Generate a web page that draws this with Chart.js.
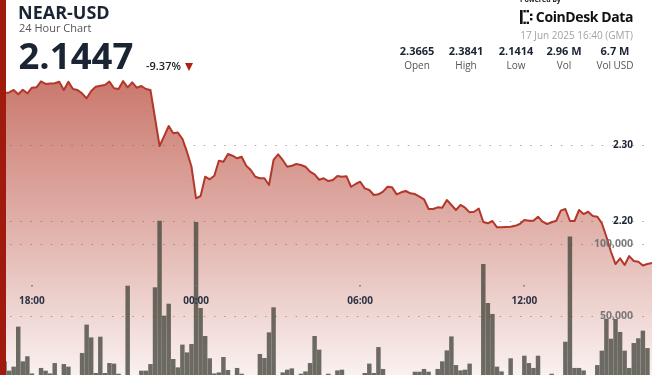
<!DOCTYPE html>
<html><head><meta charset="utf-8">
<script src="https://cdn.jsdelivr.net/npm/chart.js@4"></script>
<style>
html,body{margin:0;padding:0;background:#fff;}
#wrap{position:relative;width:652px;height:375px;overflow:hidden;font-family:"Open Sans",sans-serif;}
#c{position:absolute;left:0;top:0;}
.redbar{position:absolute;left:0;top:0;width:6px;height:375px;background:#a01b0d;}
.t{position:absolute;white-space:nowrap;line-height:1;}
.st{position:absolute;width:64px;text-align:center;line-height:1;white-space:nowrap;}
</style></head>
<body><div id="wrap">
<canvas id="c" width="652" height="375"></canvas>
<div class="redbar"></div>
<div class="t" style="left:18px;top:3px;font-size:18px;font-weight:700;color:#1b2433;">NEAR-USD</div>
<div class="t" style="left:19px;top:22px;font-size:11px;color:#555;">24 Hour Chart</div>
<div class="t" style="left:18.5px;top:36.5px;font-size:36.5px;font-weight:700;color:#1b2433;">2.1447</div>
<div class="t" style="left:146px;top:60px;font-size:11px;font-weight:600;color:#222;">-9.37%</div>
<div style="position:absolute;left:185px;top:63px;width:0;height:0;border-left:4.5px solid transparent;border-right:4.5px solid transparent;border-top:8px solid #b0200f;"></div>
<div class="t" style="left:520px;top:-3.7px;font-size:7px;font-weight:700;color:#222;">Powered by</div>
<svg style="position:absolute;left:520px;top:10px" width="13" height="14" viewBox="0 0 13 14">
<g fill="#111">
<rect x="0" y="0" width="2.6" height="14"/>
<rect x="3.4" y="0" width="2.4" height="2.4"/><rect x="6.6" y="0" width="2.4" height="2.4"/>
<rect x="3.4" y="11.6" width="2.4" height="2.4"/><rect x="6.6" y="11.6" width="2.4" height="2.4"/>
<rect x="10" y="3.6" width="2.4" height="2.4"/><rect x="10" y="8" width="2.4" height="2.4"/>
</g></svg>
<div class="t" style="right:19px;top:9.5px;font-size:14px;font-weight:700;color:#111;letter-spacing:-0.4px;">CoinDesk Data</div>
<div class="t" style="right:19px;top:30px;font-size:10px;color:#a3a3a3;">17 Jun 2025 16:40 (GMT)</div>
<div id="stats"></div>
</div>
<script>
// ---- data ----
const startTime = "16:50"; // first 10-minute bucket
const timeTicks = ["18:00", "00:00", "06:00", "12:00"];
const priceTicks = [2.20, 2.30];
const volumeTicks = [50000, 100000];
const statValues = ["2.3665", "2.3841", "2.1414", "2.96 M", "6.7 M"];
const statLabels = ["Open", "High", "Low", "Vol", "Vol USD"];

const prices = [
2.3665,2.3684,2.3691,2.3724,2.3667,2.3728,2.3680,2.3754,2.3759,2.3838,
2.3803,2.3809,2.3812,2.3833,2.3724,2.3833,2.3737,2.3724,2.3680,2.3614,
2.3711,2.3767,2.3779,2.3789,2.3835,2.3746,2.3737,2.3841,2.3759,2.3825,
2.3754,2.3776,2.3737,2.3724,2.3355,2.2987,2.3118,2.3250,2.3154,2.3164,
2.3082,2.2912,2.2714,2.2299,2.2329,2.2583,2.2549,2.2595,2.2792,2.2780,
2.2882,2.2859,2.2825,2.2846,2.2728,2.2671,2.2583,2.2562,2.2562,2.2474,
2.2803,2.2878,2.2803,2.2714,2.2728,2.2750,2.2737,2.2714,2.2649,2.2614,
2.2543,2.2562,2.2526,2.2539,2.2592,2.2583,2.2588,2.2451,2.2487,2.2517,
2.2430,2.2408,2.2342,2.2351,2.2386,2.2451,2.2443,2.2351,2.2378,2.2395,
2.2364,2.2355,2.2320,2.2286,2.2158,2.2158,2.2180,2.2175,2.2276,2.2211,
2.2145,2.2211,2.2175,2.2114,2.2122,2.2164,2.1987,2.1970,2.2000,2.1917,
2.1917,2.1921,2.1925,2.1937,2.1961,2.2013,2.2004,2.2004,2.2057,2.1991,
2.1961,2.1983,2.2004,2.2136,2.2158,2.2000,2.2000,2.2145,2.2092,2.2122,
2.2066,2.2057,2.1970,2.1793,2.1596,2.1434,2.1509,2.1421,2.1539,2.1474,
2.1464,2.1414,2.1434,2.1447
];

const volumes = [
6000,18300,11800,14600,42400,18300,21800,9900,6000,13700,
11800,9900,17100,5000,16400,14600,7000,5000,24100,43800,
34900,10200,35400,10200,17100,16700,9700,6000,70800,5000,
7000,11800,11800,16400,69700,116000,50000,58300,19900,14100,
29900,24500,30300,115000,55300,35900,20400,9900,10600,21300,
12300,6000,13700,9700,5000,7000,4000,23400,20600,38400,
55800,6000,10600,12500,13400,7000,9700,11300,17100,35900,
26400,6000,9700,5000,12000,12500,7000,5000,6000,8000,
10200,16700,10200,28200,13000,6000,7000,5000,4000,6000,
8000,11100,11100,13000,11100,7000,13000,18300,25900,35600,
15700,12000,12500,16700,6000,5000,85900,58800,51200,14600,
11300,7000,20400,6000,8000,22200,17100,13700,22200,5000,
7000,9700,6000,8000,31900,105000,13700,13700,12000,6000,
8000,15700,25700,47900,34000,47700,38700,25700,13700,31000,
34300,39600,27500,8000
];

// category labels: 10-minute buckets
const categories = [];
{
  let [h, m] = startTime.split(":").map(Number);
  for (let i = 0; i < prices.length; i++) {
    categories.push(String(h).padStart(2, "0") + ":" + String(m).padStart(2, "0"));
    m += 10; if (m >= 60) { m -= 60; h = (h + 1) % 24; }
  }
}

// stats row
const statCenters = [417, 466, 516, 564, 615];
const statsEl = document.getElementById("stats");
statValues.forEach((v, i) => {
  const a = document.createElement("div");
  a.className = "st";
  a.style.cssText = `left:${statCenters[i]-32}px;top:45.2px;font-size:11px;font-weight:700;color:#1b2433;`;
  a.textContent = v; statsEl.appendChild(a);
  const b = document.createElement("div");
  b.className = "st";
  b.style.cssText = `left:${statCenters[i]-32}px;top:60px;font-size:10px;color:#555;`;
  b.textContent = statLabels[i]; statsEl.appendChild(b);
});

const overlay = {
  id: "overlay",
  beforeDatasetsDraw(chart) {
    const { ctx, chartArea: a, scales } = chart;
    ctx.save();
    ctx.strokeStyle = "rgba(110,110,110,0.6)";
    ctx.lineWidth = 1;
    ctx.setLineDash([1.5, 8.7]);
    const ys = priceTicks.map(v => scales.y.getPixelForValue(v))
      .concat(volumeTicks.map(v => scales.yv.getPixelForValue(v)));
    ys.forEach(y => {
      const yy = Math.round(y) + 0.5;
      ctx.beginPath(); ctx.moveTo(a.left + 10, yy); ctx.lineTo(a.right, yy); ctx.stroke();
    });
    ctx.restore();
  },
  afterDatasetsDraw(chart) {
    const { ctx, scales } = chart;
    ctx.save();
    ctx.textBaseline = "middle";
    // time labels
    ctx.font = "700 10px 'Open Sans'";
    ctx.textAlign = "center";
    timeTicks.forEach(t => {
      const idx = categories.indexOf(t);
      const x = scales.x.getPixelForValue(idx);
      ctx.fillStyle = "rgba(120,120,120,0.8)";
      ctx.fillRect(Math.round(x) - 1, 285, 2, 1.5);
      ctx.fillStyle = "#2a3344";
      ctx.fillText(t, x, 301.5);
    });
    // price labels
    ctx.textAlign = "right";
    ctx.fillStyle = "#1b2433";
    priceTicks.forEach(v => {
      ctx.fillText(v.toFixed(2), 633, scales.y.getPixelForValue(v) + 0.5);
    });
    ctx.font = "700 10.5px 'Open Sans'";
    ctx.fillStyle = "rgba(110,110,110,0.9)";
    volumeTicks.forEach(v => {
      ctx.fillText(v.toLocaleString("en-US"), 633, scales.yv.getPixelForValue(v) + 0.5);
    });
    ctx.restore();
  }
};

const ctx = document.getElementById("c").getContext("2d");
new Chart(ctx, {
  type: "line",
  data: {
    labels: categories,
    datasets: [
      {
        type: "bar",
        data: volumes,
        yAxisID: "yv",
        backgroundColor: "rgba(72,74,64,0.8)",
        borderWidth: 0,
        barThickness: 3.8,
        order: 1
      },
      {
        type: "line",
        data: prices,
        yAxisID: "y",
        borderColor: "#b3372a",
        borderWidth: 2,
        pointRadius: 0,
        tension: 0,
        borderJoinStyle: "round",
        fill: "start",
        backgroundColor: (c) => {
          const g = c.chart.ctx.createLinearGradient(0, 80, 0, 375);
          g.addColorStop(0, "rgba(185,75,60,0.75)");
          g.addColorStop(0.5, "rgba(185,75,60,0.43)");
          g.addColorStop(1, "rgba(185,75,60,0.08)");
          return g;
        },
        order: 2
      }
    ]
  },
  options: {
    animation: false,
    responsive: false,
    events: [],
    layout: { padding: 0 },
    plugins: { legend: { display: false }, tooltip: { enabled: false } },
    scales: {
      x: { type: "category", display: false, offset: false },
      y: { display: false, min: 1.9974, max: 2.4908 },
      yv: { display: false, min: 9028, max: 269444 }
    }
  },
  plugins: [overlay]
});
</script>
</body></html>
